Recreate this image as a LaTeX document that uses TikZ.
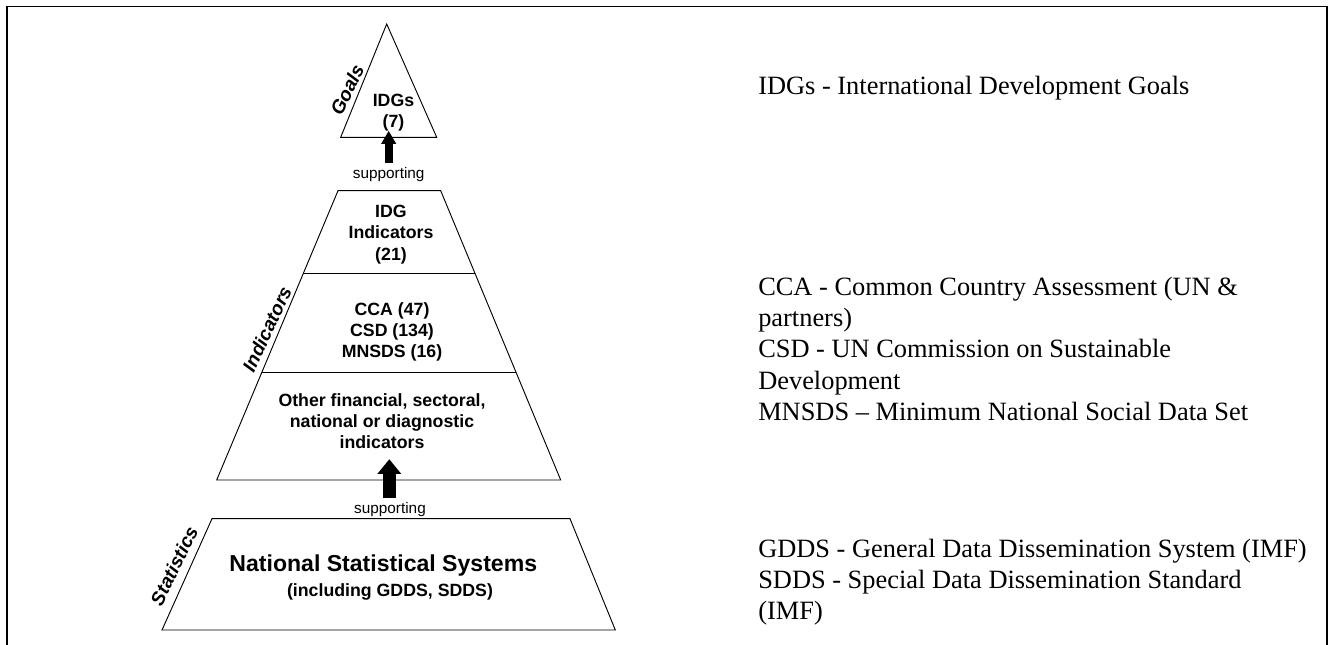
\documentclass[tikz,border=0pt]{standalone}
\usepackage{fontspec}
\setmainfont{Liberation Serif}
\newfontfamily\arialfont{Liberation Sans}
\usetikzlibrary{arrows.meta,calc,positioning}
\tikzset{
  tier/.style={
    align = center,
    inner sep = 0pt,
    font = \arialfont\bfseries\fontsize{13.3}{16}\selectfont
  },
  side/.style={
    inner sep = 0pt,
    font = \arialfont\bfseries\itshape\fontsize{14.3}{17}\selectfont
  },
  supp/.style={
    inner sep = 0pt,
    font = \arialfont\fontsize{11.5}{13}\selectfont
  },
  note/.style={
    anchor = base west,
    inner sep = 0pt,
    font = \fontsize{19.8}{23}\selectfont
  },
  level/.style={
    draw,
    line width = 0.7pt
  },
  lift/.style n args={3}{
    line width = #1,
    -{Triangle[width=#2,length=#3,line width=0pt]}
  },
}

\begin{document}
\begin{tikzpicture}[x=0.75pt,y=-0.75pt]
\useasboundingbox (0,0) rectangle (1328,645);
% frame
\draw[line width=1.2pt] (6.8,645) -- (6.8,6.5) -- (1326.8,6.5) -- (1326.8,645);
% pyramid
\draw[level] (386.7,24) -- (436.7,137.3) -- (340.7,137.3) -- cycle;
\coordinate (mtl) at (338,190.7);
\coordinate (mtr) at (440.7,190.7);
\coordinate (mbl) at (216.7,480);
\coordinate (mbr) at (560.7,480);
\draw[level] (mtl) -- (mtr) -- (mbr) -- (mbl) -- cycle;
\foreach \t in {0.286,0.627}{
  \draw[level] ($(mtl)!\t!(mbl)$) -- ($(mtr)!\t!(mbr)$);
}
\draw[level] (212,518.7) -- (570,518.7) -- (615.3,630) -- (162,630) -- cycle;
% texts on the pyramid
\node[side,rotate=64] (goals) at (347,90) {Goals};
\node[tier] (idgs) at (393.5,112.5) {IDGs\\(7)};
\node[supp] (sup1) at (388.7,175) {supporting};
\node[tier] (idgind) at (391,234.5) {IDG\\Indicators\\(21)};
\node[tier] (cca) at (392,332) {CCA (47)\\CSD (134)\\MNSDS (16)};
\node[side,rotate=65] (indic) at (267,329) {Indicators};
\node[tier] (other) at (382,421) {Other financial, sectoral,\\national or diagnostic\\indicators};
\node[supp] (sup2) at (390,510) {supporting};
\node[side,rotate=64] (stats) at (174,566) {Statistics};
\node[tier,font=\arialfont\bfseries\fontsize{17.3}{20}\selectfont] (nss) at (383.3,565.7) {National Statistical Systems};
\node[tier] (nsssub) at (390,591.7) {(including GDDS, SDDS)};
% supporting arrows
\coordinate (a1) at (388.7,162.7);
\coordinate (t1) at (388.7,131);
\coordinate (a2) at (389.3,498.3);
\coordinate (t2) at (389.3,459.3);
\draw[lift={6pt}{11.5pt}{9.75pt}] (a1) -- (t1);
\draw[lift={10pt}{18pt}{11pt}] (a2) -- (t2);
% notes
\node[note] (idgnote) at (758,95) {IDGs - International Development Goals};
\foreach \txt [count=\i from 0] in {{CCA - Common Country Assessment (UN \&},{partners)},{CSD - UN Commission on Sustainable},{Development},{MNSDS – Minimum National Social Data Set}}{
  \node[note] (ind\i) at (758,296+31*\i) {\txt};
}
\foreach \txt [count=\i from 0] in {{GDDS - General Data Dissemination System (IMF)},{SDDS - Special Data Dissemination Standard},{(IMF)}}{
  \node[note] (stat\i) at (758,557+31*\i) {\txt};
}
\end{tikzpicture}
\end{document}
